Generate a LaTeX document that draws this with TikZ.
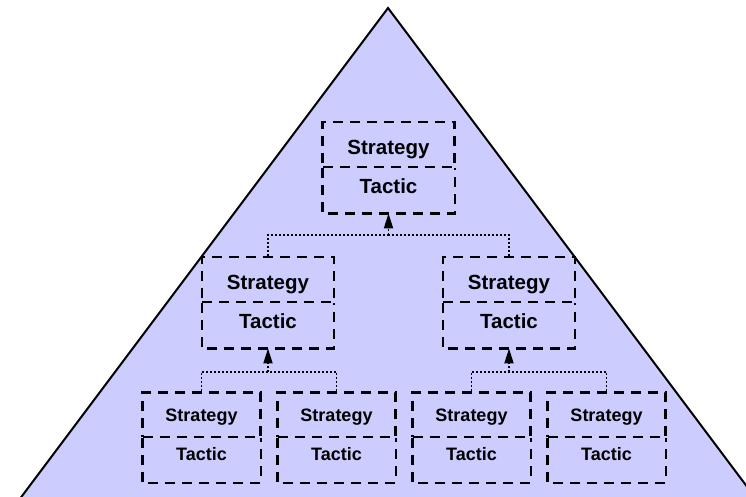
\documentclass[tikz,border=0pt]{standalone}
\usepackage{fontspec}
\setmainfont{Liberation Sans}
\usetikzlibrary{arrows.meta}
\definecolor{pyramid}{HTML}{CCCCFF}
\begin{document}
\begin{tikzpicture}[x=1pt,y=-1pt,
  dashline/.style={line width=2.4pt, dash pattern=on 10pt off 7pt},
  half/.style={inner sep=0pt, anchor=#1},
  bigbox/.style={half=#1, minimum width=132pt, minimum height=45pt,
    font=\bfseries\fontsize{20.5}{24}\selectfont},
  smallbox/.style={half=#1, minimum width=118pt, minimum height=44.5pt,
    font=\bfseries\fontsize{18}{22}\selectfont},
  bigtop/.style={bigbox=south, draw, dashline, text height=20pt, text depth=0pt},
  bigbot/.style={bigbox=north, text height=10pt, text depth=5.4pt},
  smalltop/.style={smallbox=south, draw, dashline, text height=14.4pt, text depth=0pt},
  smallbot/.style={smallbox=north, text height=6pt, text depth=6pt},
  link/.style={line width=1.8pt, dash pattern=on 1.8pt off 2.2pt},
  up/.style={link, -{Triangle[length=15pt,width=9pt]}}]
  \useasboundingbox (0,0) rectangle (746,496);
  \clip (0,0) rectangle (746,496);

  % pyramid background
  \fill[pyramid] (388,8) -- (4,520) -- (772,520) -- cycle;
  \draw[line width=2pt, line join=miter] (4,520) -- (388,8) -- (772,520);

  % top level
  \node[bigtop] (s0) at (388.5,168) {Strategy};
  \node[bigbot] (t0) at (s0.south) {Tactic};

  % middle level
  \node[bigtop] (s1) at (268,303) {Strategy};
  \node[bigbot] (t1) at (s1.south) {Tactic};
  \node[bigtop] (s2) at (509,303) {Strategy};
  \node[bigbot] (t2) at (s2.south) {Tactic};

  % bottom level
  \node[smalltop] (s3) at (201.5,438) {Strategy};
  \node[smallbot] (t3) at (s3.south) {Tactic};
  \node[smalltop] (s4) at (336.5,438) {Strategy};
  \node[smallbot] (t4) at (s4.south) {Tactic};
  \node[smalltop] (s5) at (471.5,438) {Strategy};
  \node[smallbot] (t5) at (s5.south) {Tactic};
  \node[smalltop] (s6) at (606.5,438) {Strategy};
  \node[smallbot] (t6) at (s6.south) {Tactic};

  % open outline below each strategy cell
  \foreach \t in {t0,t1,t2,t3,t4,t5,t6}
    \draw[dashline] (\t.north west) -- (\t.south west) -- (\t.south east) -- (\t.north east);

  % junctions
  \coordinate (j0) at (388.5,235);
  \coordinate (j1) at (268,372);
  \coordinate (j2) at (509,372);

  % connectors
  \draw[link] (s1.north) |- (j0);
  \draw[link] (s2.north) |- (j0);
  \draw[up] (j0) -- (t0.south);

  \draw[link] (s3.north) |- (j1);
  \draw[link] (s4.north) |- (j1);
  \draw[up] (j1) -- (t1.south);

  \draw[link] (s5.north) |- (j2);
  \draw[link] (s6.north) |- (j2);
  \draw[up] (j2) -- (t2.south);
\end{tikzpicture}
\end{document}
